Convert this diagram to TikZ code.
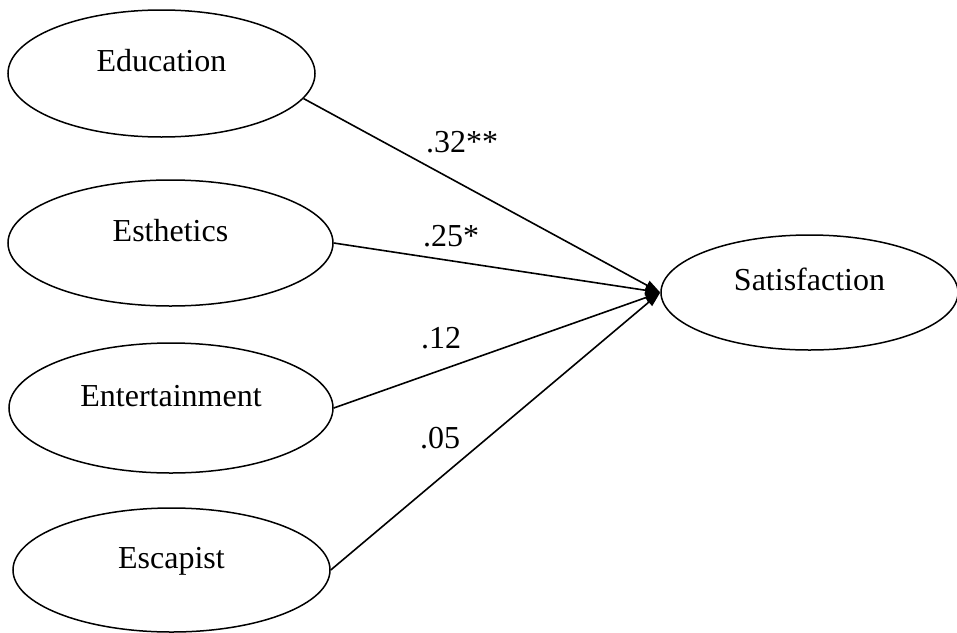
\documentclass[tikz,border=0pt]{standalone}
\usepackage{fontspec}
\setmainfont{Liberation Serif}
\usetikzlibrary{shapes.geometric,arrows.meta}

\tikzset{
  latent/.style={ellipse,draw,black,line width=1.5pt,inner sep=0pt,
    text height=22pt,text depth=26pt},
  coef/.style={inner sep=0pt},
  path/.style={-{Triangle[length=15pt,width=10pt]},line width=1.6pt,black}
}

\begin{document}
\begin{tikzpicture}[x=1pt,y=-1pt,font=\fontsize{32}{38}\selectfont]
\useasboundingbox (0,0) rectangle (957,632);


\node [latent,minimum width=307pt,minimum height=127pt](edu)  at (161.5,73.5) {Education};
\node [latent,minimum width=325pt,minimum height=126pt](est)  at (170.5,243) {Esthetics};
\node [latent,minimum width=324pt,minimum height=130pt](ent)  at (171,408) {Entertainment};
\node [latent,minimum width=317pt,minimum height=124pt](esc)  at (171.5,570) {Escapist};
\node [latent,minimum width=297pt,minimum height=115pt](sat)  at (809.5,292.5) {Satisfaction};


\node [coef](c1) at (462,142) {.32**};
\node [coef](c2) at (451,236) {.25*};
\node [coef](c3) at (441,338) {.12};
\node [coef](c4) at (440,438) {.05};


\draw [path] (edu.-10)--(sat.west);
\draw [path] (est.east)--(sat.west);
\draw [path] (ent.east)--(sat.west);
\draw [path] (esc.east)--(sat.west);



\end{tikzpicture}
\end{document}
